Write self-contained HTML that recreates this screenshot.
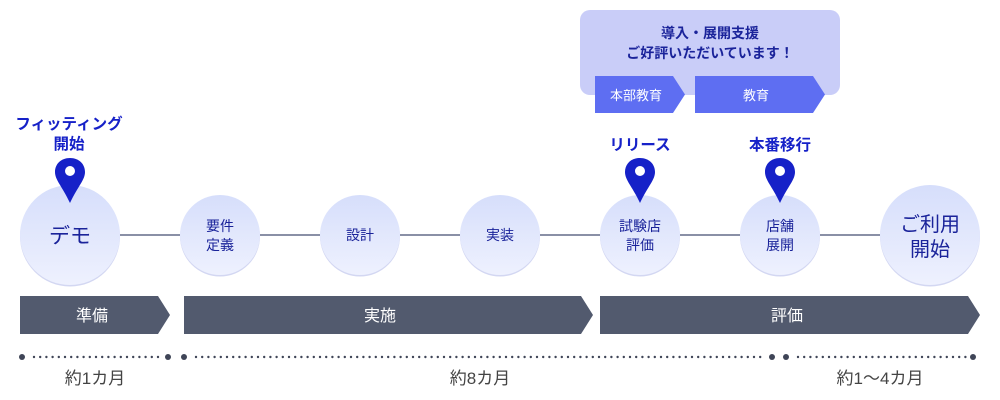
<!DOCTYPE html>
<html><head><meta charset="utf-8"><style>
html,body{margin:0;padding:0;background:#fff;}
svg{display:block;font-family:"Liberation Sans","Noto Sans CJK JP",sans-serif;}
</style></head><body>
<svg width="1000" height="400" viewBox="0 0 1000 400" xmlns="http://www.w3.org/2000/svg">
<defs>
<linearGradient id="g" x1="0" y1="0" x2="0" y2="1">
<stop offset="0" stop-color="#d6defb"/><stop offset="1" stop-color="#eef1fe"/>
</linearGradient>
</defs>
<!-- top box -->
<rect x="580" y="10" width="260" height="85" rx="10" fill="#c9cdf8"/>
<text x="710" y="38" text-anchor="middle" font-size="14" font-weight="bold" fill="#1a239a">導入・展開支援</text>
<text x="710" y="58" text-anchor="middle" font-size="14" font-weight="bold" fill="#1a239a">ご好評いただいています！</text>
<polygon points="595,76 673,76 685,94.5 673,113 595,113" fill="#5e6ef2"/>
<polygon points="695,76 813,76 825,94.5 813,113 695,113" fill="#5e6ef2"/>
<text x="636" y="100" text-anchor="middle" font-size="13" fill="#fff">本部教育</text>
<text x="756" y="100" text-anchor="middle" font-size="13" fill="#fff">教育</text>
<!-- line -->
<line x1="118" y1="235" x2="882" y2="235" stroke="#8a90a6" stroke-width="2"/>
<!-- circles -->
<g fill="#d3d7f2">
<circle cx="70" cy="236.5" r="50"/>
<circle cx="220" cy="236.5" r="40"/><circle cx="360" cy="236.5" r="40"/><circle cx="500" cy="236.5" r="40"/>
<circle cx="640" cy="236.5" r="40"/><circle cx="780" cy="236.5" r="40"/>
<circle cx="930" cy="236.5" r="50"/>
</g>
<g fill="url(#g)">
<circle cx="70" cy="235" r="50"/>
<circle cx="220" cy="235" r="40"/><circle cx="360" cy="235" r="40"/><circle cx="500" cy="235" r="40"/>
<circle cx="640" cy="235" r="40"/><circle cx="780" cy="235" r="40"/>
<circle cx="930" cy="235" r="50"/>
</g>
<g fill="#1a239a" text-anchor="middle">
<text x="70" y="243" font-size="21">デモ</text>
<text x="220" y="231" font-size="14">要件</text><text x="220" y="250" font-size="14">定義</text>
<text x="360" y="240" font-size="14">設計</text>
<text x="500" y="240" font-size="14">実装</text>
<text x="640" y="231" font-size="14">試験店</text><text x="640" y="250" font-size="14">評価</text>
<text x="780" y="231" font-size="14">店舗</text><text x="780" y="250" font-size="14">展開</text>
<text x="930" y="231" font-size="20">ご利用</text><text x="930" y="256" font-size="20">開始</text>
</g>
<!-- pins -->
<g fill="#1621c8">
<g transform="translate(70,0)"><path d="M0 158 C-9 158 -15 164 -15 172 C-15 180 -8 186 0 203 C8 186 15 180 15 172 C15 164 9 158 0 158Z"/><circle cx="0" cy="171" r="5" fill="#fff"/></g>
<g transform="translate(640,0)"><path d="M0 158 C-9 158 -15 164 -15 172 C-15 180 -8 186 0 203 C8 186 15 180 15 172 C15 164 9 158 0 158Z"/><circle cx="0" cy="171" r="5" fill="#fff"/></g>
<g transform="translate(780,0)"><path d="M0 158 C-9 158 -15 164 -15 172 C-15 180 -8 186 0 203 C8 186 15 180 15 172 C15 164 9 158 0 158Z"/><circle cx="0" cy="171" r="5" fill="#fff"/></g>
</g>
<g fill="#1621c8" font-weight="bold" font-size="15.5" text-anchor="middle">
<text x="69" y="129">フィッティング</text><text x="69" y="149">開始</text>
<text x="640" y="150">リリース</text>
<text x="780" y="150">本番移行</text>
</g>
<!-- bars -->
<g fill="#525a6e">
<polygon points="20,296 158,296 170,315 158,334 20,334"/>
<polygon points="184,296 581,296 593,315 581,334 184,334"/>
<polygon points="600,296 968,296 980,315 968,334 600,334"/>
</g>
<g fill="#fff" font-size="16" text-anchor="middle">
<text x="92" y="321">準備</text><text x="380" y="321">実施</text><text x="787" y="321">評価</text>
</g>
<!-- dots -->
<g fill="#3f4557">
<circle cx="22" cy="357" r="3"/><circle cx="168" cy="357" r="3"/><circle cx="184" cy="357" r="3"/>
<circle cx="772" cy="357" r="3"/><circle cx="786" cy="357" r="3"/><circle cx="973" cy="357" r="3"/>
</g>
<line x1="34" y1="357" x2="160" y2="357" stroke="#3f4557" stroke-width="2.4" stroke-linecap="round" stroke-dasharray="0 6.2"/>
<line x1="196" y1="357" x2="766" y2="357" stroke="#3f4557" stroke-width="2.4" stroke-linecap="round" stroke-dasharray="0 6.2"/>
<line x1="798" y1="357" x2="966" y2="357" stroke="#3f4557" stroke-width="2.4" stroke-linecap="round" stroke-dasharray="0 6.2"/>
<g fill="#444" font-size="17" text-anchor="middle">
<text x="95" y="384">約1カ月</text><text x="480" y="384">約8カ月</text><text x="880" y="384">約1〜4カ月</text>
</g>
</svg>
</body></html>
